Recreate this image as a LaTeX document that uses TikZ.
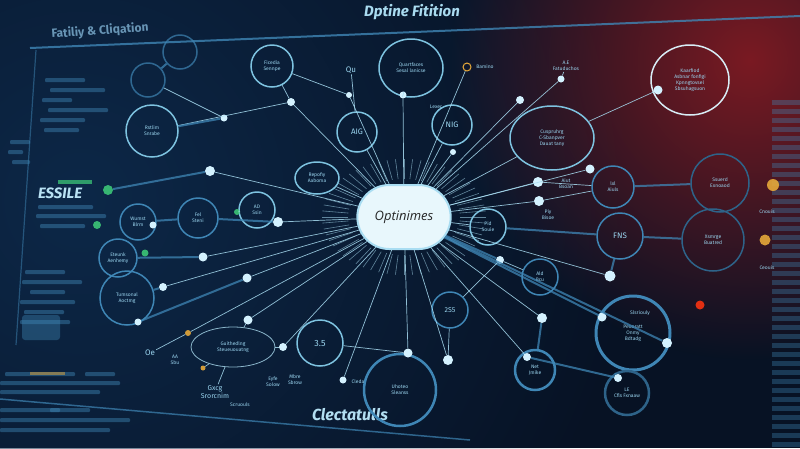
\documentclass[tikz,border=0pt]{standalone}
\usepackage{fontspec}
\setmainfont{Fira Sans}
\newfontfamily\cfont{Open Sans}
\usetikzlibrary{shapes.geometric,shapes.misc,fadings}
\tikzfading[name=glowfade, inner color=transparent!0, outer color=transparent!100]
\definecolor{bgc}{HTML}{071224}
\definecolor{redg}{HTML}{7A1A22}
\definecolor{blueg}{HTML}{0D2848}
\definecolor{rayc}{HTML}{A9DDF2}
\definecolor{ringc}{HTML}{7EC3E0}
\definecolor{dotc}{HTML}{D4F2FF}
\definecolor{txtc}{HTML}{9AD4EE}
\definecolor{dimc}{HTML}{3F86B5}
\definecolor{cnode}{HTML}{E8F7FC}
\definecolor{greenc}{HTML}{3FCF7A}
\definecolor{orc}{HTML}{E6A93A}
\begin{document}
\begin{tikzpicture}[x=1pt,y=-1pt,
  ray/.style={draw=rayc, line width=0.7pt, opacity=0.85},
  dray/.style={draw=dimc, line width=2pt, opacity=0.75},
  cring/.style={circle, draw=ringc, line width=1.5pt, inner sep=0pt, minimum size=#1, text=txtc, font=\fontsize{5}{6}\selectfont, align=center},
  ering/.style n args={2}{ellipse, draw=ringc, line width=1.5pt, inner sep=0pt, minimum width=#1, minimum height=#2, text=txtc, font=\fontsize{5}{6}\selectfont, align=center},
  fring/.style={cring=#1, draw=dimc, opacity=0.7},
  pdot/.style={circle, fill=dotc, inner sep=0pt, minimum size=#1},
  gdot/.style={circle, fill=greenc, inner sep=0pt, minimum size=#1, opacity=0.85},
  odot/.style={circle, fill=orc, inner sep=0pt, minimum size=#1, opacity=0.9},
  lab/.style={text=txtc, font=\fontsize{5}{6}\selectfont, align=center, inner sep=1pt},
  bar/.style={fill=dimc, opacity=0.45, rounded corners=1pt},
]
\useasboundingbox (0,0) rectangle (800,448);
\clip (0,0) rectangle (800,448);
\fill[bgc] (0,0) rectangle (800,448);
\fill[blueg, path fading=glowfade] (80,200) circle (560pt);
\fill[redg, path fading=glowfade] (750,60) circle (300pt);

% panel frame
\draw[dimc, line width=2pt, opacity=0.8] (30,48) -- (800,16);
\draw[dimc, line width=1.2pt, opacity=0.5] (36,50) -- (16,345);
\draw[dimc, line width=1.5pt, opacity=0.7] (0,399) -- (470,440);
\foreach \y in {100,109,...,448} \fill[dimc, opacity=0.35] (772,\y) rectangle ++(28,5);

% blurred text rows
\foreach \x/\y/\w in {45/78/40,50/88/55,42/98/30,48/108/60,40/118/45,44/128/35,
  38/205/55,36/214/70,40/224/45,
  25/270/40,22/280/60,30/290/35,20/300/55,24/310/40,20/320/50,
  5/372/70,85/372/30,0/381/120,0/390/100,0/408/60,50/408/40,0/418/130,0/428/110,
  10/140/20,8/150/15,12/160/18} \fill[bar] (\x,\y) rectangle ++(\w,4);
\fill[dimc, opacity=0.4, rounded corners=3pt] (22,315) rectangle (60,340);
\fill[orc, opacity=0.5] (30,372) rectangle ++(35,3);

% titles
\node[text=txtc!85!white, font=\bfseries\itshape\fontsize{15}{17}\selectfont] (title) at (412,12) {Dptine Fitition};
\node[text=dimc!70!white, font=\bfseries\fontsize{12}{14}\selectfont, rotate=4, opacity=0.85] (sub) at (100,31) {Fatiliy \& Cliqation};
\node[text=txtc!70!white, font=\bfseries\itshape\fontsize{15}{17}\selectfont] (essile) at (60,193) {ESSILE};
\fill[greenc, opacity=0.7] (58,180) rectangle (92,184);
\node[text=txtc!75!white, font=\bfseries\itshape\fontsize{16}{18}\selectfont] (clect) at (350,415) {Clectatulls};

% centre
\node[rounded rectangle, fill=cnode, draw=rayc, line width=2pt, minimum width=100pt, minimum height=64pt, font=\cfont\itshape\fontsize{13}{15}\selectfont, text=black!85] (c) at (404,217) {Optinimes};
\begin{scope}[shift={(404,217)}]
\foreach \a in {0,6,...,354} \draw[rayc, line width=0.6pt, opacity=0.55] (\a:56pt and 38pt) -- (\a:82pt and 58pt);
\end{scope}

% rings
\node[fring=34] (rA) at (180,52) {};
\node[cring=42] (rB) at (272,66) {Ficedia\\Sennpe};
\node[fring=34] (rC) at (148,80) {};
\node[cring=52] (rD) at (152,131) {Rstlim\\Snrabe};
\node[ering={64pt}{58pt}] (rE) at (411,68) {Quartfaces\\Sesal lanicse};
\node[cring=40, font=\fontsize{8}{9}\selectfont] (rF) at (357,132) {AIG};
\node[cring=40, font=\fontsize{8}{9}\selectfont] (rG) at (452,125) {NIG};
\node[ering={84pt}{64pt}] (rH) at (552,138) {Cuspruhrg\\C-Sbanpver\\Dauat tany};
\node[ering={78pt}{70pt}, draw=white!70!ringc] (rI) at (690,80) {Kaarfiod\\Asbnar fonfigi\\Kpnngtovsel\\Sbsuhagsuon};
\node[ering={44pt}{32pt}] (rJ) at (317,178) {Repofiy\\Aaboma};
\node[cring=36] (rK) at (257,210) {AD\\Ssin};
\node[cring=40, draw=dimc] (rL) at (198,218) {Fel\\Steni};
\node[cring=36, draw=dimc] (rM) at (138,222) {Wumst\\Blrm};
\node[cring=38, draw=dimc] (rN) at (118,258) {Eteunk\\Aenhemy};
\node[cring=54, draw=dimc] (rO) at (127,298) {Tumsonal\\Aoctmg};
\node[cring=36] (rP) at (488,227) {Pid\\Souie};
\node[cring=42, draw=dimc] (rQ) at (613,187) {lxl\\Aiuls};
\node[cring=46, draw=dimc, font=\fontsize{8}{9}\selectfont] (rR) at (620,236) {FNS};
\node[cring=58, draw=dimc!70!bgc] (rS) at (720,183) {Ssuerd\\Exnoaod};
\node[cring=62, draw=dimc!70!bgc] (rT) at (713,240) {Xsmrge\\Buatred};
\node[cring=36, draw=dimc] (rU) at (540,277) {Ald\\Bcu};
\node[cring=74, draw=dimc, line width=3pt] (rV) at (633,333) {Peuoratt\\Onmy\\Bdtadg};
\node[cring=40, draw=dimc, line width=2.5pt] (rW) at (535,370) {Net\\Jmike};
\node[cring=44, draw=dimc!70!bgc, line width=2.5pt] (rX) at (627,393) {LE\\Cfls Fxnaaw};
\node[cring=36, draw=dimc, font=\fontsize{7}{8}\selectfont] (rY) at (450,310) {2S5};
\node[cring=46, font=\fontsize{9}{10}\selectfont] (rZ) at (320,343) {3.5};
\node[cring=72, draw=dimc, line width=2.5pt] (rAA) at (400,390) {Uhoteo\\Sleanss};
\node[ering={84pt}{40pt}, draw=rayc!80!bgc, line width=0.8pt] (rBB) at (233,347) {Guithedlng\\Steueuouatng};

% dots
\foreach \n/\x/\y/\s in {p1/291/102/8,p2/349/95/6,p3/403/95/7,p4/520/100/8,p5/561/79/7,
  p6/658/90/9,p7/224/118/7,p8/590/169/9,p9/538/182/10,p10/539/201/10,p11/453/152/6,
  p12/500/260/8,p13/610/276/11,p14/602/317/9,p15/667/343/10,p16/542/318/10,
  p17/527/357/8,p18/448/360/10,p19/408/353/9,p20/343/380/7,p21/283/347/8,
  p22/248/320/9,p25/138/322/7,p26/163/287/8,p27/203/257/9,p28/247/278/9,
  p29/278/222/10,p30/210/171/10,p31/153/225/7,p32/618/378/8}
  \node[pdot=\s] (\n) at (\x,\y) {};
\node[odot=6] (p23) at (188,333) {};
\node[odot=5] (p24) at (203,368) {};
\node[gdot=10] (g1) at (108,190) {};
\node[gdot=8] (g2) at (97,225) {};
\node[gdot=7] (g3) at (145,253) {};
\node[gdot=6] (g4) at (237,212) {};
\node[odot=12] (o1) at (773,185) {};
\node[odot=11] (o2) at (765,240) {};
\node[circle, draw=orc, line width=1pt, inner sep=0pt, minimum size=8pt] (o3) at (467,67) {};
\node[odot=9, fill=red!70!orc] (o4) at (700,305) {};

% labels
\node[lab] (l1) at (436,107) {Lexer};
\node[lab, font=\fontsize{8}{9}\selectfont] (l2) at (351,70) {Qu};
\node[lab] (l3) at (485,67) {Bamino};
\node[lab] (l4) at (566,66) {A.E\\Fatuduchos};
\node[lab, font=\fontsize{8}{9}\selectfont] (l5) at (150,353) {Oe};
\node[lab, font=\fontsize{7}{8}\selectfont] (l6) at (215,392) {Gxcg\\Srorcnim};
\node[lab] (l7) at (273,382) {Eyfe\\Solow};
\node[lab] (l8) at (295,380) {Mbre\\Sbrow};
\node[lab] (l9) at (358,382) {Cleda};
\node[lab] (l10) at (566,184) {Aiut\\Bsoan};
\node[lab] (l11) at (548,215) {Piy\\Bisoe};
\node[lab] (l12) at (767,212) {Cnouis};
\node[lab] (l13) at (767,268) {Ceouis};
\node[lab] (l14) at (175,360) {AA\\Sbu};
\node[lab] (l15) at (640,313) {Slsriouly};
\node[lab] (l16) at (240,405) {Scruouls};

% connectors from centre
\foreach \t in {p1,p2,p3,o3,p4,p5,p9,p10,p11,rF,rG,rJ,p13,p16,p17,p18,p19,p20,p21,p22,p23,p26,p27,p28,p29,p30,p8,rP}
  \draw[ray] (c) -- (\t);
\draw[ray] (c) -- (rH);
\draw[dray] (c) -- (p14);
\draw[dray] (c) -- (p15);
\draw[dray] (c) -- (p12);

% chains
\draw[ray] (p1) -- (rD);
\draw[ray] (p7) -- (rC);
\draw[ray] (p1) -- (rB);
\draw[ray] (p2) -- (rB);
\draw[ray] (rE) -- (p3);
\draw[ray] (rH) -- (p6);
\draw[ray] (p5) -- (l4);
\draw[ray] (p9) -- (rQ);
\draw[dray] (rQ) -- (rS);
\draw[ray] (p10) -- (rQ);
\draw[dray] (rP) -- (rR);
\draw[dray] (rR) -- (rT);
\draw[dray] (p13) -- (rR);
\draw[dray] (p14) -- (rV);
\draw[dray] (p16) -- (rW);
\draw[ray] (p18) -- (rY);
\draw[ray] (rY) -- (p12);
\draw[ray] (p19) -- (rZ);
\draw[dray] (p17) -- (p32);
\draw[dray] (p32) -- (rX);
\draw[ray] (p22) -- (rBB);
\draw[ray] (p23) -- (l5);
\draw[ray] (p24) -- (rBB);
\draw[ray] (rBB) -- (l6);
\draw[ray] (p21) -- (rBB);
\draw[dray] (p30) -- (g1);
\draw[dray] (p29) -- (rL);
\draw[dray] (rL) -- (rM);
\draw[dray] (p27) -- (rN);
\draw[dray] (p26) -- (rO);
\draw[dray] (p28) -- (p25);
\draw[dray] (p7) -- (rD);
\draw[dray] (rC) -- (rA);
\draw[ray] (rU) -- (p12);
\draw[ray] (rK) -- (g4);
\draw[ray] (rF) -- (l2);
\draw[ray] (rG) -- (l1);
\end{tikzpicture}
\end{document}
